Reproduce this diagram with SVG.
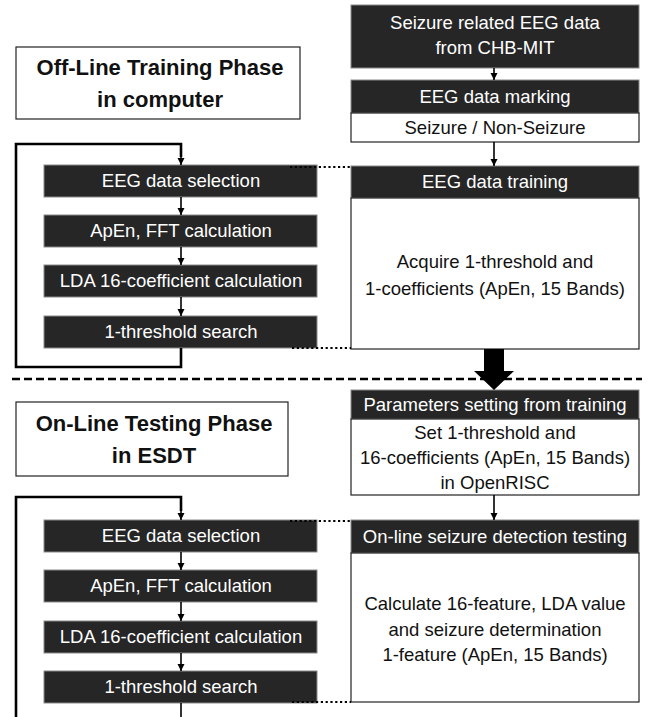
<svg xmlns="http://www.w3.org/2000/svg" width="650" height="717" viewBox="0 0 650 717">
<style>
.dark{fill:#262626;stroke:#8a8a8a;stroke-width:1}
.white{fill:#ffffff;stroke:#222222;stroke-width:1.2}
.wt{font-family:"Liberation Sans",Arial,sans-serif;font-size:18.5px;fill:#ffffff;text-anchor:middle}
.bt{font-family:"Liberation Sans",Arial,sans-serif;font-size:18.5px;fill:#111111;text-anchor:middle}
.tt{font-family:"Liberation Sans",Arial,sans-serif;font-size:22px;font-weight:bold;fill:#111111;text-anchor:middle}
.ln{fill:none;stroke:#000;stroke-width:1.6}
.loop{fill:none;stroke:#000;stroke-width:2.6}
.dot{fill:none;stroke:#000;stroke-width:2.2;stroke-dasharray:2.2 2.6}
.dash{fill:none;stroke:#000;stroke-width:2.6;stroke-dasharray:8 4}
</style>
<defs>
<marker id="ah" markerWidth="8" markerHeight="8" refX="7" refY="4" orient="auto" markerUnits="userSpaceOnUse">
<path d="M0,0.5 L7,4 L0,7.5 Z" fill="#000"/>
</marker>
</defs>

<g id="title-offline">
<rect x="16" y="47" width="284" height="72" class="white"/>
<text x="160" y="75" class="tt">Off-Line Training Phase</text>
<text x="160" y="107" class="tt">in computer</text>
</g>

<g id="title-online">
<rect x="16" y="402" width="272" height="74" class="white"/>
<text x="154" y="431" class="tt">On-Line Testing Phase</text>
<text x="154" y="463" class="tt">in ESDT</text>
</g>

<g id="chbmit">
<rect x="351" y="5" width="288" height="63" class="dark"/>
<text x="495" y="29" class="wt">Seizure related EEG data</text>
<text x="495" y="54" class="wt">from CHB-MIT</text>
</g>

<g id="marking">
<rect x="351" y="80" width="288" height="33" class="dark"/>
<text x="495" y="103" class="wt">EEG data marking</text>
<rect x="351" y="113" width="288" height="29" class="white"/>
<text x="495" y="134" class="bt">Seizure / Non-Seizure</text>
</g>

<g id="training">
<rect x="351" y="166" width="288" height="32" class="dark"/>
<text x="495" y="188" class="wt">EEG data training</text>
<rect x="351" y="198" width="288" height="151" class="white"/>
<text x="495" y="268" class="bt">Acquire 1-threshold and</text>
<text x="495" y="295" class="bt">1-coefficients (ApEn, 15 Bands)</text>
</g>

<g id="params">
<rect x="351" y="390" width="288" height="29" class="dark"/>
<text x="495" y="411" class="wt">Parameters setting from training</text>
<rect x="351" y="419" width="288" height="76" class="white"/>
<text x="495" y="439" class="bt">Set 1-threshold and</text>
<text x="495" y="464" class="bt">16-coefficients (ApEn, 15 Bands)</text>
<text x="495" y="489" class="bt">in OpenRISC</text>
</g>

<g id="online">
<rect x="351" y="520" width="288" height="33" class="dark"/>
<text x="495" y="543" class="wt">On-line seizure detection testing</text>
<rect x="351" y="553" width="288" height="149" class="white"/>
<text x="495" y="610" class="bt">Calculate 16-feature, LDA value</text>
<text x="495" y="636" class="bt">and seizure determination</text>
<text x="495" y="661" class="bt">1-feature (ApEn, 15 Bands)</text>
</g>

<g id="sel1">
<rect x="44" y="165" width="273" height="32" class="dark"/>
<text x="181" y="187" class="wt">EEG data selection</text>
</g>
<g id="fft1">
<rect x="44" y="215" width="273" height="32" class="dark"/>
<text x="181" y="237" class="wt">ApEn, FFT calculation</text>
</g>
<g id="lda1">
<rect x="44" y="265" width="273" height="32" class="dark"/>
<text x="181" y="287" class="wt">LDA 16-coefficient calculation</text>
</g>
<g id="thr1">
<rect x="44" y="316" width="273" height="32" class="dark"/>
<text x="181" y="338" class="wt">1-threshold search</text>
</g>

<g id="sel2">
<rect x="44" y="520" width="273" height="32" class="dark"/>
<text x="181" y="542" class="wt">EEG data selection</text>
</g>
<g id="fft2">
<rect x="44" y="570" width="273" height="32" class="dark"/>
<text x="181" y="592" class="wt">ApEn, FFT calculation</text>
</g>
<g id="lda2">
<rect x="44" y="621" width="273" height="32" class="dark"/>
<text x="181" y="643" class="wt">LDA 16-coefficient calculation</text>
</g>
<g id="thr2">
<rect x="44" y="671" width="273" height="32" class="dark"/>
<text x="181" y="693" class="wt">1-threshold search</text>
</g>

<g id="connectors">
<path class="ln" d="M494,68 L494,80" marker-end="url(#ah)"/>
<path class="ln" d="M494,142 L494,166" marker-end="url(#ah)"/>
<path class="ln" d="M494,495 L494,520" marker-end="url(#ah)"/>
<path class="ln" d="M181,197 L181,215" marker-end="url(#ah)"/>
<path class="ln" d="M181,247 L181,265" marker-end="url(#ah)"/>
<path class="ln" d="M181,297 L181,316" marker-end="url(#ah)"/>
<path class="ln" d="M181,552 L181,570" marker-end="url(#ah)"/>
<path class="ln" d="M181,602 L181,621" marker-end="url(#ah)"/>
<path class="ln" d="M181,653 L181,671" marker-end="url(#ah)"/>
<path class="ln" d="M181,703 L181,717"/>
<path class="loop" d="M181,348 L181,367 L16,367 L16,144 L181,144 L181,157"/>
<path class="ln" d="M181,150 L181,165" marker-end="url(#ah)"/>
<path class="loop" d="M16,717 L16,497 L181,497 L181,511"/>
<path class="ln" d="M181,505 L181,520" marker-end="url(#ah)"/>
<path class="dot" d="M290,167 L351,167"/>
<path class="dot" d="M292,348 L351,348"/>
<path class="dot" d="M290,521 L351,521"/>
<path class="dot" d="M292,702 L351,702"/>
<path class="dash" d="M12,379 L642,379"/>
<path d="M484,349 L504,349 L504,371 L514,371 L494,390 L474,371 L484,371 Z" fill="#000"/>
</g>
</svg>
